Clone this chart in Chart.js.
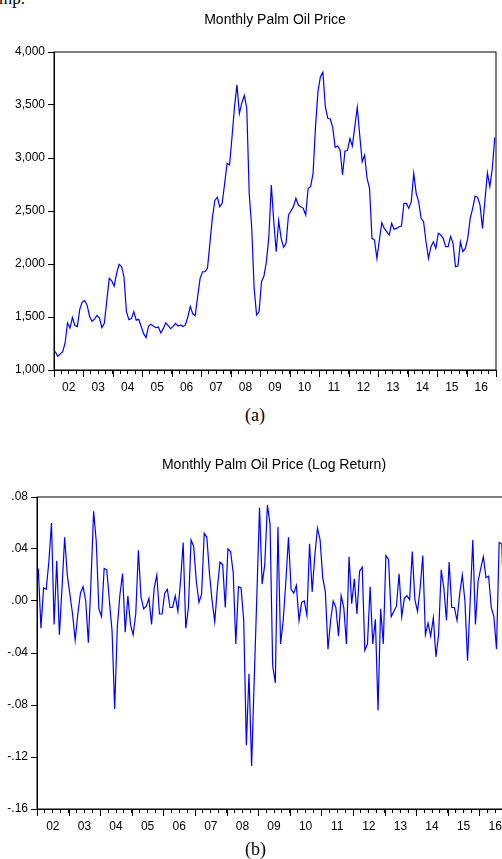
<!DOCTYPE html>
<html>
<head>
<meta charset="utf-8">
<script src="https://cdn.jsdelivr.net/npm/chart.js@4.4.1/dist/chart.umd.min.js"></script>
<style>
  body { margin: 0; background: #fff; overflow: hidden; width: 502px; height: 859px; position: relative; }
  canvas { position: absolute; left: 0; }
  .cap { position: absolute; font-family: "Liberation Serif", "Times New Roman", serif; font-size: 18px; color: #000; line-height: 20px; }
</style>
</head>
<body>
<div class="cap" style="left:-1px;top:-11px;font-size:17px">mp.</div>
<canvas id="priceChart" style="top:0;width:502px;height:400px" width="502" height="400"></canvas>
<div class="cap" style="left:245px;top:405px">(a)</div>
<canvas id="returnChart" style="top:430px;width:520px;height:410px" width="520" height="410"></canvas>
<div class="cap" style="left:245px;top:839px">(b)</div>
<script>
// ----- Data (monthly, 2002M01 .. 2016M12)
const yearLabels = ["02", "03", "04", "05", "06", "07", "08", "09", "10", "11", "12", "13", "14", "15", "16"];

const price = [
    1175, 1130, 1150, 1170, 1250, 1445, 1395, 1495, 1420, 1410, 1575, 1640,   // 2002
    1655, 1610, 1505, 1460, 1480, 1515, 1490, 1400, 1440, 1655, 1865, 1840,   // 2003
    1792, 1912, 1997, 1975, 1880, 1550, 1475, 1485, 1550, 1470, 1478, 1410,   // 2004
    1343, 1305, 1415, 1431, 1412, 1399, 1405, 1349, 1390, 1445, 1418, 1390,   // 2005
    1412, 1440, 1415, 1425, 1410, 1425, 1500, 1600, 1530, 1513, 1695, 1865,   // 2006
    1927, 1927, 1960, 2197, 2435, 2600, 2630, 2540, 2575, 2760, 2950, 2935,   // 2007
    3200, 3480, 3690, 3420, 3520, 3590, 3470, 2663, 2352, 1772, 1519, 1550,   // 2008
    1833, 1887, 2022, 2258, 2745, 2400, 2116, 2409, 2242, 2157, 2195, 2462,   // 2009
    2500, 2541, 2620, 2556, 2541, 2525, 2462, 2714, 2730, 2855, 3296, 3626,   // 2010
    3767, 3808, 3484, 3374, 3368, 3289, 3101, 3113, 3076, 2840, 3066, 3070,   // 2011
    3183, 3113, 3296, 3478, 3217, 2965, 3028, 2808, 2714, 2242, 2226, 2053,   // 2012
    2226, 2390, 2336, 2305, 2273, 2384, 2327, 2336, 2352, 2358, 2572, 2572,   // 2013
    2525, 2588, 2855, 2667, 2588, 2431, 2399, 2210, 2053, 2163, 2210, 2147,   // 2014
    2289, 2273, 2242, 2163, 2163, 2258, 2195, 1975, 1981, 2210, 2116, 2147,   // 2015
    2242, 2431, 2525, 2640, 2629, 2556, 2336, 2600, 2861, 2730, 2903, 3195    // 2016
];

const logReturn = [
    0.025, -0.021, 0.010, 0.009, 0.030, 0.060, -0.018, 0.031, -0.026, 0.010, 0.049, 0.020,      // 2002
    0.005, -0.010, -0.030, -0.010, 0.006, 0.011, 0.000, -0.032, 0.015, 0.069, 0.046, -0.006,    // 2003
    -0.012, 0.025, 0.024, 0.000, -0.023, -0.083, -0.020, 0.005, 0.021, -0.024, 0.004, -0.018,   // 2004
    -0.026, -0.010, 0.039, 0.003, -0.006, -0.004, 0.002, -0.018, 0.010, 0.020, -0.010, -0.010,  // 2005
    0.006, 0.009, -0.005, -0.005, 0.004, -0.008, 0.015, 0.045, -0.021, -0.005, 0.047, 0.042,    // 2006
    0.015, -0.001, 0.005, 0.052, 0.049, 0.021, 0.000, -0.016, 0.010, 0.030, 0.028, -0.005,      // 2007
    0.040, 0.038, 0.022, -0.033, 0.011, 0.010, -0.015, -0.111, -0.056, -0.127, -0.060, 0.005,   // 2008
    0.072, 0.013, 0.028, 0.074, 0.059, -0.050, -0.063, 0.057, -0.033, -0.015, 0.015, 0.049,     // 2009
    0.009, 0.006, 0.012, -0.015, -0.001, 0.000, -0.011, 0.044, 0.007, 0.035, 0.056, 0.047,      // 2010
    0.018, 0.007, -0.037, -0.015, 0.000, -0.005, -0.027, 0.004, -0.005, -0.033, 0.034, -0.002,  // 2011
    0.017, -0.010, 0.023, 0.026, -0.038, -0.033, 0.011, -0.033, -0.014, -0.084, -0.006, -0.033, // 2012
    0.035, 0.032, -0.012, -0.008, -0.004, 0.021, -0.012, 0.002, 0.004, 0.001, 0.038, 0.001,     // 2013
    -0.008, 0.010, 0.035, -0.026, -0.017, -0.027, -0.013, -0.043, -0.026, 0.024, 0.010, -0.015, // 2014
    0.030, -0.005, -0.005, -0.015, 0.005, 0.020, 0.000, -0.046, 0.000, 0.047, -0.018, 0.015,    // 2015
    0.025, 0.034, 0.018, 0.019, -0.005, -0.012, -0.037, 0.045, 0.044, -0.020, 0.025, 0.040      // 2016
];

const FONT = "'Liberation Sans', Arial, sans-serif";

// ----- Box, x-axis major ticks and title drawn on top of each chart
const frame = {
    id: 'frame',
    afterDraw(chart, args, opts) {
        const { ctx, chartArea: a } = chart;
        const xs = chart.scales.x;
        ctx.save();
        ctx.strokeStyle = '#000';
        ctx.lineWidth = 1;
        ctx.strokeRect(a.left, a.top, a.right - a.left, a.bottom - a.top);
        // yearly ticks are longer than the quarterly ones
        xs.ticks.forEach(t => {
            if (Math.round(t.value + 0.5) % 12 !== 0) return;
            const px = Math.round(xs.getPixelForValue(t.value)) + 0.5;
            ctx.beginPath();
            ctx.moveTo(px, a.bottom);
            ctx.lineTo(px, a.bottom + 7);
            ctx.stroke();
        });
        ctx.fillStyle = '#000';
        ctx.font = opts.font;
        ctx.textAlign = 'center';
        ctx.textBaseline = 'middle';
        ctx.fillText(opts.text, (a.left + a.right) / 2, opts.y);
        ctx.restore();
    }
};

function makeChart(el, values, cfg) {
    return new Chart(el, {
        type: 'line',
        data: {
            datasets: [{
                data: values.map((v, i) => ({ x: i, y: v })),
                borderColor: '#0000ff',
                borderWidth: 1.2,
                pointRadius: 0,
                tension: 0,
                fill: false
            }]
        },
        options: {
            responsive: false,
            animation: false,
            layout: { padding: { top: cfg.top, right: cfg.right, left: 0, bottom: 0 } },
            plugins: {
                legend: { display: false },
                tooltip: { enabled: false },
                frame: { text: cfg.title, y: cfg.titleY, font: '14px ' + FONT }
            },
            scales: {
                x: {
                    type: 'linear',
                    min: -0.5,
                    max: values.length - 0.5,
                    afterBuildTicks: s => {
                        const t = [];
                        for (let v = -0.5; v <= values.length - 0.5; v += 3) t.push({ value: v });
                        s.ticks = t;
                    },
                    afterFit: s => { s.height = cfg.xh; },
                    grid: { drawOnChartArea: false, drawTicks: true, tickLength: 4, tickColor: '#000', tickWidth: 1 },
                    border: { display: true, color: '#000', width: 1 },
                    ticks: {
                        autoSkip: false, maxRotation: 0, minRotation: 0, padding: 6,
                        color: '#000', font: { family: FONT, size: 12 },
                        callback: v => {
                            const k = v + 0.5 - 6;
                            return (k >= 0 && k % 12 === 0) ? yearLabels[k / 12] : '';
                        }
                    }
                },
                y: {
                    min: cfg.min, max: cfg.max,
                    afterFit: s => { s.width = cfg.yw; },
                    grid: { drawOnChartArea: false, drawTicks: true, tickLength: 6, tickColor: '#000' },
                    border: { display: true, color: '#000', width: 1 },
                    ticks: { stepSize: cfg.step, padding: 3, color: '#000', font: { family: FONT, size: 12 }, callback: cfg.fmt }
                }
            }
        },
        plugins: [frame]
    });
}

makeChart(document.getElementById('priceChart'), price, {
    title: 'Monthly Palm Oil Price', titleY: 20,
    top: 52, right: 1, yw: 54, xh: 30,
    min: 1000, max: 4000, step: 500,
    fmt: v => Math.round(v).toLocaleString('en-US')
});

makeChart(document.getElementById('returnChart'), logReturn, {
    title: 'Monthly Palm Oil Price (Log Return)', titleY: 35,
    top: 67, right: 9, yw: 37, xh: 31,
    min: -0.16, max: 0.08, step: 0.04,
    fmt: v => {
        const r = Math.round(v * 100) / 100;
        return (r < 0 ? '-' : '') + Math.abs(r).toFixed(2).replace(/^0/, '');
    }
});
</script>
</body>
</html>
